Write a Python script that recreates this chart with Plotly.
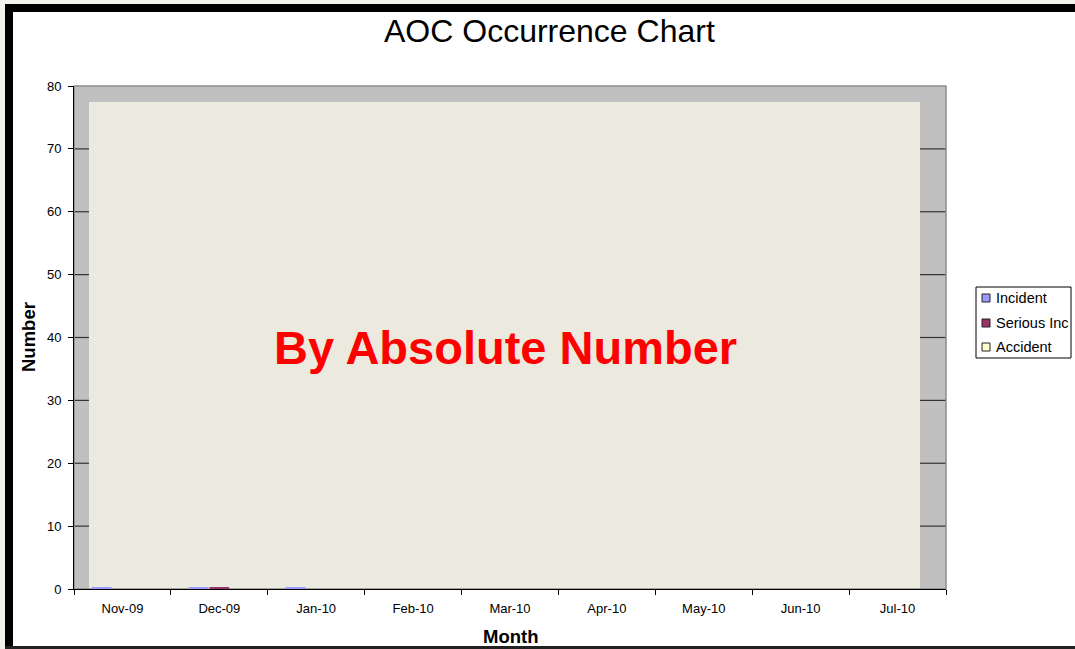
import plotly.graph_objects as go

months = ["Nov-09", "Dec-09", "Jan-10", "Feb-10", "Mar-10", "Apr-10", "May-10", "Jun-10", "Jul-10"]
incident = [0.2, 0.2, 0.2, None, None, None, None, None, None]
serious_inc = [None, 0.2, None, None, None, None, None, None, None]
accident = [None, None, None, None, None, None, None, None, None]
series_names = ["Incident", "Serious Inc", "Accident"]
series_colors = ["#9999FF", "#993366", "#FFFFCC"]
y_ticks = [0, 10, 20, 30, 40, 50, 60, 70, 80]

W, H = 1075, 649
L, R, T, B = 74, 946, 86, 589


def px(x):
    return (x - L) / (R - L)


def py(y):
    return (B - y) / (B - T)


fig = go.Figure()
for name, vals, col in zip(series_names, [incident, serious_inc, accident], series_colors):
    fig.add_trace(go.Bar(x=months, y=vals, name=name, marker=dict(color=col, line=dict(width=0)),
                         showlegend=False))

shapes = []
# outer frame
shapes += [
    dict(type="rect", xref="paper", yref="paper", x0=px(0), x1=px(W), y0=py(0), y1=py(4),
         fillcolor="#F4F2EC", line=dict(width=0), layer="above"),
    dict(type="rect", xref="paper", yref="paper", x0=px(0), x1=px(5), y0=py(0), y1=py(H),
         fillcolor="#F4F2EC", line=dict(width=0), layer="above"),
    dict(type="rect", xref="paper", yref="paper", x0=px(5), x1=px(W), y0=py(4), y1=py(12),
         fillcolor="#000000", line=dict(width=0), layer="above"),
    dict(type="rect", xref="paper", yref="paper", x0=px(5), x1=px(13), y0=py(4), y1=py(H),
         fillcolor="#000000", line=dict(width=0), layer="above"),
    dict(type="rect", xref="paper", yref="paper", x0=px(5), x1=px(W), y0=py(646), y1=py(H),
         fillcolor="#222222", line=dict(width=0), layer="above"),
]
# beige back wall
shapes.append(dict(type="rect", xref="paper", yref="paper", x0=px(89), x1=px(920), y0=py(589), y1=py(102),
                   fillcolor="#ECE9DF", line=dict(width=0), layer="below"))
# gridlines visible only on the grey side walls
for v in y_ticks[1:-1]:
    for xa, xb in [(0, px(89)), (px(920), 1)]:
        shapes.append(dict(type="line", xref="x domain", yref="y", x0=xa, x1=xb, y0=v, y1=v,
                           line=dict(color="#333333", width=1.2), layer="below"))
# plot border (top/right grey)
shapes.append(dict(type="rect", xref="paper", yref="paper", x0=0, x1=1, y0=0, y1=1,
                   fillcolor="rgba(0,0,0,0)", line=dict(color="#8C8C8C", width=1.5), layer="below"))

# manual legend
shapes.append(dict(type="rect", xref="paper", yref="paper", x0=px(976), x1=px(1071), y0=py(287), y1=py(358),
                   fillcolor="white", line=dict(color="black", width=1), layer="above"))
annotations = []
leg_y = [298, 323, 347]
for name, col, yy in zip(series_names, series_colors, leg_y):
    shapes.append(dict(type="rect", xref="paper", yref="paper", x0=px(982), x1=px(990), y0=py(yy + 4), y1=py(yy - 4),
                       fillcolor=col, line=dict(color="#222222", width=1), layer="above"))
    annotations.append(dict(xref="paper", yref="paper", x=px(994), y=py(yy), text=name, showarrow=False,
                            xanchor="left", yanchor="middle",
                            font=dict(family="Liberation Sans, Arial", size=14.5, color="black")))

annotations += [
    dict(xref="paper", yref="paper", x=px(549.5), y=py(31), text="AOC Occurrence Chart", showarrow=False,
         xanchor="center", yanchor="middle", font=dict(family="Liberation Sans, Arial", size=32, color="black")),
    dict(xref="paper", yref="paper", x=px(505), y=py(347), text="<b>By Absolute Number</b>", showarrow=False,
         xanchor="center", yanchor="middle", font=dict(family="Liberation Sans, Arial", size=47, color="#FF0000")),
    dict(xref="paper", yref="paper", x=px(511), y=py(637), text="<b>Month</b>", showarrow=False,
         xanchor="center", yanchor="middle", font=dict(family="Liberation Sans, Arial", size=18.5, color="black")),
    dict(xref="paper", yref="paper", x=px(28), y=py(337), text="<b>Number</b>", showarrow=False, textangle=-90,
         xanchor="center", yanchor="middle", font=dict(family="Liberation Sans, Arial", size=18.5, color="black")),
]

fig.update_layout(
    width=W, height=H,
    margin=dict(l=L, r=W - R, t=T, b=H - B, pad=0),
    paper_bgcolor="white",
    plot_bgcolor="#C0C0C0",
    barmode="group", bargap=0.36, bargroupgap=0.05,
    showlegend=False,
    shapes=shapes,
    annotations=annotations,
    font=dict(family="Liberation Sans, Arial", size=13, color="black"),
)
fig.update_xaxes(type="category", categoryorder="array", categoryarray=months,
                 tickson="boundaries", ticks="outside", ticklen=5, tickcolor="black",
                 showline=True, linecolor="black", linewidth=1, showgrid=False,
                 ticklabelstandoff=7, tickfont=dict(size=13, color="black"))
fig.update_yaxes(range=[0, 80], tickvals=y_ticks, ticks="outside", ticklen=5, tickcolor="black",
                 showline=True, linecolor="black", linewidth=1, showgrid=False,
                 zeroline=False, ticklabelstandoff=4, tickfont=dict(size=13, color="black"))

fig.write_html("out.html")
